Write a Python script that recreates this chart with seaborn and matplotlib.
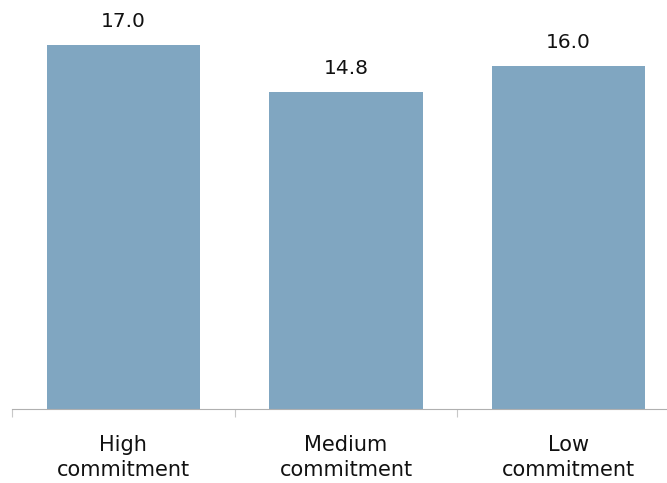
import matplotlib
matplotlib.use("Agg")
import matplotlib.pyplot as plt
from matplotlib.ticker import FixedLocator
import seaborn as sns

categories = ["High\ncommitment", "Medium\ncommitment", "Low\ncommitment"]
values = [17.0, 14.8, 16.0]
value_labels = ["17.0", "14.8", "16.0"]

sns.set_style("white")
plt.rcParams["font.family"] = ["DejaVu Sans"]

fig = plt.figure(figsize=(6.67, 4.83), dpi=100)
ax = fig.add_axes([12 / 667, 74 / 483, 668 / 667, 409 / 483])

sns.barplot(x=categories, y=values, color="#80A6C1", saturation=1,
            width=0.69, linewidth=0, ax=ax)

ax.set_xlim(-0.5, 2.5)
ax.set_ylim(0, 19.1)

for bar, lab in zip(ax.patches, value_labels):
    ax.annotate(lab, (bar.get_x() + bar.get_width() / 2, bar.get_height()),
                xytext=(0, 10), textcoords="offset points",
                ha="center", va="bottom", fontsize=14.5, color="#111111")

for side in ["top", "right", "left"]:
    ax.spines[side].set_visible(False)
ax.spines["bottom"].set_color("#b0b0b0")
ax.spines["bottom"].set_linestyle((0, (2, 1)))
ax.spines["bottom"].set_linewidth(0.8)

ax.set_yticks([])
ax.tick_params(axis="x", which="major", length=0, pad=19,
               labelsize=15, labelcolor="#111111")
for lbl in ax.get_xticklabels():
    lbl.set_linespacing(1.3)
ax.xaxis.set_minor_locator(FixedLocator([-0.5, 0.5, 1.5, 2.5]))
ax.tick_params(axis="x", which="minor", bottom=True, length=6, width=0.8,
               color="#c8c8c8", direction="out")
ax.set_xlabel("")
ax.set_ylabel("")

fig.savefig("out.png", dpi=100)
